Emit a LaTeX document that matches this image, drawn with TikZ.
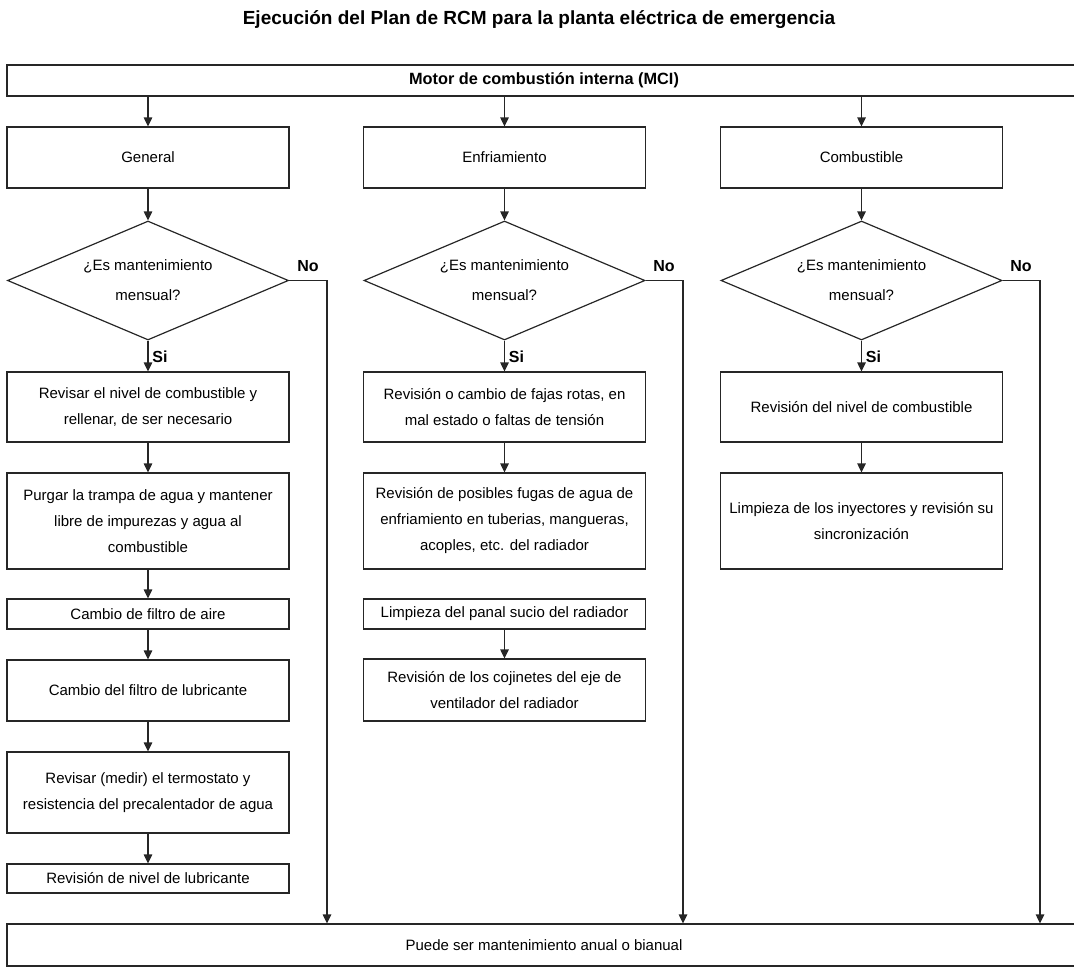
\documentclass[tikz,border=0pt]{standalone}
\usepackage{fontspec}
\setmainfont{Liberation Sans}
\usetikzlibrary{shapes.geometric,arrows.meta}

\begin{document}
\begin{tikzpicture}[x=1pt,y=-1pt,
  font=\fontsize{15}{26}\selectfont,
  box/.style={draw=black!85, line width=1.2pt, minimum width=282pt,
    align=center, inner sep=2pt},
  wide/.style={box, minimum width=1074pt},
  dia/.style={draw=black!85, line width=1.2pt, shape=diamond, aspect=2.35,
    minimum width=281pt, minimum height=119pt, inner sep=0pt, align=center,
    font=\fontsize{15}{30}\selectfont},
  arr/.style={draw=black!85, line width=1.2pt, -{Triangle[length=9pt,width=8.5pt]}},
  lbl/.style={font=\bfseries\fontsize{16}{18}\selectfont, inner sep=0pt}
]
\useasboundingbox (0,0) rectangle (1074,977);

% title
\node[font=\bfseries\fontsize{19}{22}\selectfont] (title) at (539,20)
  {Ejecución del Plan de RCM para la planta eléctrica de emergencia};

% top and bottom bars
\node[wide, minimum height=31pt, font=\bfseries\fontsize{16.3}{19}\selectfont]
  (mci) at (544,80.5) {Motor de combustión interna (MCI)};
\node[wide, minimum height=42pt] (fin) at (544,945)
  {Puede ser mantenimiento anual o bianual};

% column heads
\node[box, minimum height=61pt] (gh) at (148,157.5) {General};
\node[box, minimum height=61pt] (eh) at (504.5,157.5) {Enfriamiento};
\node[box, minimum height=61pt] (ch) at (861.5,157.5) {Combustible};

% decisions
\node[dia] (gd) at (148,280.5) {¿Es mantenimiento\\mensual?};
\node[dia] (ed) at (504.5,280.5) {¿Es mantenimiento\\mensual?};
\node[dia] (cd) at (861.5,280.5) {¿Es mantenimiento\\mensual?};

% General steps
\node[box, minimum height=70pt] (g1) at (148,407)
  {Revisar el nivel de combustible y\\rellenar, de ser necesario};
\node[box, minimum height=96pt] (g2) at (148,521)
  {Purgar la trampa de agua y mantener\\libre de impurezas y agua al\\combustible};
\node[box, minimum height=30pt] (g3) at (148,614) {Cambio de filtro de aire};
\node[box, minimum height=61pt] (g4) at (148,690.5) {Cambio del filtro de lubricante};
\node[box, minimum height=81pt] (g5) at (148,792.5)
  {Revisar (medir) el termostato y\\resistencia del precalentador de agua};
\node[box, minimum height=29pt] (g6) at (148,878.5) {Revisión de nivel de lubricante};

% Enfriamiento steps
\node[box, minimum height=70pt] (e1) at (504.5,407)
  {Revisión o cambio de fajas rotas, en\\mal estado o faltas de tensión};
\node[box, minimum height=96pt] (e2) at (504.5,521)
  {Revisión de posibles fugas de agua de\\enfriamiento en tuberias, mangueras,\\acoples, etc. del radiador};
\node[box, minimum height=30pt] (e3) at (504.5,614) {Limpieza del panal sucio del radiador};
\node[box, minimum height=62pt] (e4) at (504.5,690)
  {Revisión de los cojinetes del eje de\\ventilador del radiador};

% Combustible steps
\node[box, minimum height=70pt] (c1) at (861.5,407) {Revisión del nivel de combustible};
\node[box, minimum height=96pt] (c2) at (861.5,521)
  {Limpieza de los inyectores y revisión su\\sincronización};

% feeds from the top bar
\foreach \h in {gh,eh,ch}
  \draw[arr] (mci.south -| \h.north) -- (\h.north);

% heads into decisions
\draw[arr] (gh) -- (gd);
\draw[arr] (eh) -- (ed);
\draw[arr] (ch) -- (cd);

% "Si" branches
\draw[arr] (gd.south) -- (g1.north);
\draw[arr] (ed.south) -- (e1.north);
\draw[arr] (cd.south) -- (c1.north);
\node[lbl] (gsi) at (160,357) {Si};
\node[lbl] (esi) at (516.5,357) {Si};
\node[lbl] (csi) at (873.5,357) {Si};

% "No" branches
\coordinate (gno) at (327,280.5);
\coordinate (eno) at (683,280.5);
\coordinate (cno) at (1040,280.5);
\draw[arr] (gd.east) -- (gno) -- (gno |- fin.north);
\draw[arr] (ed.east) -- (eno) -- (eno |- fin.north);
\draw[arr] (cd.east) -- (cno) -- (cno |- fin.north);
\node[lbl] (gnl) at (308,266) {No};
\node[lbl] (enl) at (664,266) {No};
\node[lbl] (cnl) at (1021,266) {No};

% step sequences
\draw[arr] (g1) -- (g2);
\draw[arr] (g2) -- (g3);
\draw[arr] (g3) -- (g4);
\draw[arr] (g4) -- (g5);
\draw[arr] (g5) -- (g6);
\draw[arr] (e1) -- (e2);
\draw[arr] (e3) -- (e4);
\draw[arr] (c1) -- (c2);
\end{tikzpicture}
\end{document}
